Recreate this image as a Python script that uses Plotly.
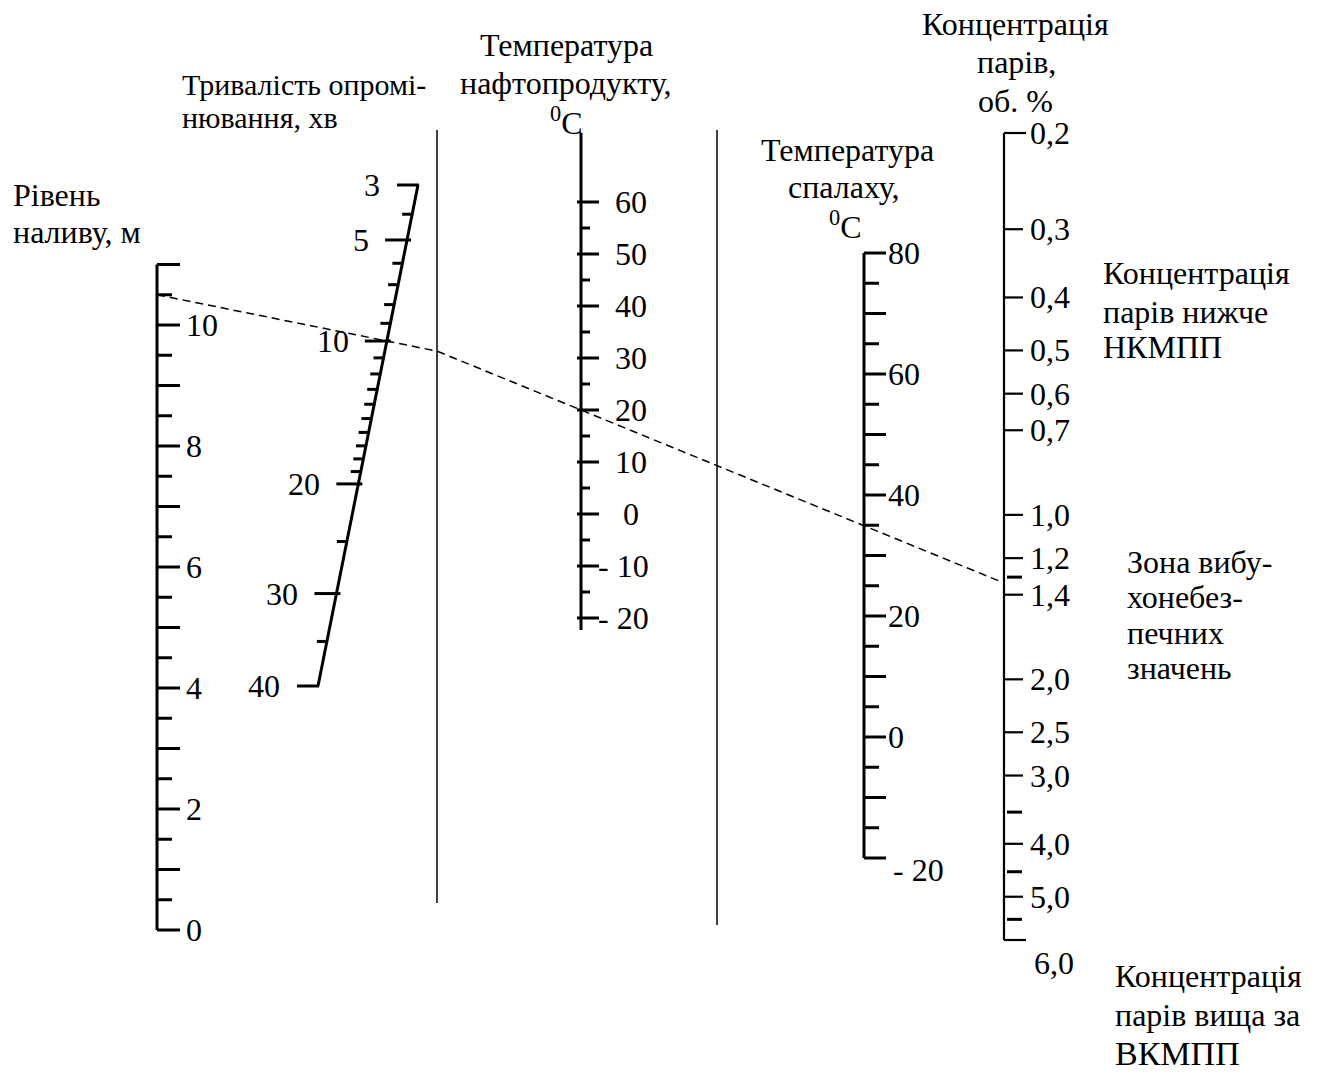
import math
import plotly.graph_objects as go

# ---------------- data ----------------
level_ticks = [0, 0.5, 1, 1.5, 2, 2.5, 3, 3.5, 4, 4.5, 5, 5.5, 6, 6.5, 7, 7.5,
               8, 8.5, 9, 9.5, 10, 10.5, 11]
level_labels = [0, 2, 4, 6, 8, 10]

time_major = [3, 5, 10, 20, 30, 40]
time_minor = [4, 6, 7, 8, 9, 11, 12, 13, 14, 15, 16, 17, 18, 19, 25, 35]

temp_major = [60, 50, 40, 30, 20, 10, 0, -10, -20]
temp_minor = [55, 45, 35, 25, 15, 5, -5, -15]
temp_labels = ["60", "50", "40", "30", "20", "10", "0", "- 10", "- 20"]

flash_major = [80, 70, 60, 50, 40, 30, 20, 10, 0, -10, -20]
flash_minor = [75, 65, 55, 45, 35, 25, 15, 5, -5, -15]
flash_labeled = [80, 60, 40, 20, 0, -20]
flash_labels = ["80", "60", "40", "20", "0", "- 20"]

conc_major = [0.2, 0.3, 0.4, 0.5, 0.6, 0.7, 1.0, 1.2, 1.4, 2.0, 2.5, 3.0, 4.0, 5.0, 6.0]
conc_labels = ["0,2", "0,3", "0,4", "0,5", "0,6", "0,7", "1,0", "1,2", "1,4",
               "2,0", "2,5", "3,0", "4,0", "5,0", "6,0"]
conc_minor = [1.3, 3.5, 4.5, 5.5]

# worked example shown by the dashed key line
example_level = 10.5   # m
example_time = 10      # min
example_temp = 20      # deg C

# ---------------- scales (nomogram axes placement) ----------------
W, H = 1319, 1074
FONT = "Liberation Serif, Times New Roman, serif"
FS = 32


def lin(domain, rng):
    d0, d1 = domain
    r0, r1 = rng
    return lambda v: r0 + (v - d0) / (d1 - d0) * (r1 - r0)


LEVEL_X = 157
level_y = lin((0, 11), (930, 264.5))

TIME_TOP = (418, 185)
TIME_BOT = (318, 686)
t_lo, t_hi = time_major[0], time_major[-1]


def time_pos(t):
    s = (math.sqrt(t) - math.sqrt(t_lo)) / (math.sqrt(t_hi) - math.sqrt(t_lo))
    return (TIME_TOP[0] + s * (TIME_BOT[0] - TIME_TOP[0]),
            TIME_TOP[1] + s * (TIME_BOT[1] - TIME_TOP[1]))


TEMP_X = 581
temp_y = lin((60, -20), (202, 618))
TEMP_EXT = (73.3, -22.3)

FLASH_X = 864
flash_y = lin((80, -20), (253, 858))

CONC_X = 1004
_conc_lin = lin((math.log10(conc_major[0]), math.log10(conc_major[-1])), (133, 940))


def conc_y(c):
    return _conc_lin(math.log10(c))


REF1_X, REF1_Y = 437, (130, 903)
REF2_X, REF2_Y = 717, (130, 925)

# ---------------- geometry ----------------
thick, medium, thin = [], [], []


def seg(lst, x0, y0, x1, y1):
    lst.append((x0, y0, x1, y1))


# level axis
seg(thick, LEVEL_X, level_y(level_ticks[0]), LEVEL_X, level_y(level_ticks[-1]))
for v in level_ticks:
    ln = 23 if float(v).is_integer() else 15
    seg(thick, LEVEL_X, level_y(v), LEVEL_X + ln, level_y(v))

# time axis (slanted)
x0, y0 = time_pos(t_lo)
x1, y1 = time_pos(t_hi)
seg(thick, x0, y0, x1, y1)
for t in time_major:
    x, y = time_pos(t)
    if t in (t_lo, t_hi):
        seg(thick, x - 21, y, x + 1, y)
    else:
        seg(thick, x - 22, y, x + 4, y)
for t in time_minor:
    x, y = time_pos(t)
    seg(thick, x - 10, y, x + 1, y)

# product temperature axis
seg(thick, TEMP_X, temp_y(TEMP_EXT[0]), TEMP_X, temp_y(TEMP_EXT[1]))
for v in temp_major:
    seg(thick, TEMP_X - 4, temp_y(v), TEMP_X + 18, temp_y(v))
for v in temp_minor:
    seg(thick, TEMP_X + 1, temp_y(v), TEMP_X + 9, temp_y(v))

# flash temperature axis
seg(thick, FLASH_X, flash_y(flash_major[0]), FLASH_X, flash_y(flash_major[-1]))
for v in flash_major:
    seg(thick, FLASH_X, flash_y(v), FLASH_X + 22, flash_y(v))
for v in flash_minor:
    seg(thick, FLASH_X, flash_y(v), FLASH_X + 15, flash_y(v))

# concentration axis
seg(medium, CONC_X, conc_y(conc_major[0]), CONC_X, conc_y(conc_major[-1]))
for i, c in enumerate(conc_major):
    ln = 22 if i in (0, len(conc_major) - 1) else 19
    seg(medium, CONC_X, conc_y(c), CONC_X + ln, conc_y(c))
for c in conc_minor:
    seg(thick, CONC_X + 3, conc_y(c), CONC_X + 18, conc_y(c))

# reference (unscaled) lines
seg(thin, REF1_X, REF1_Y[0], REF1_X, REF1_Y[1])
seg(thin, REF2_X, REF2_Y[0], REF2_X, REF2_Y[1])

# dashed key line: level -> time -> pivot on ref line 1 -> temperature -> concentration axis
pl = (LEVEL_X, level_y(example_level))
pt = time_pos(example_time)
piv_y = pl[1] + (REF1_X - pl[0]) * (pt[1] - pl[1]) / (pt[0] - pl[0])
ptemp = (TEMP_X, temp_y(example_temp))
slope2 = (ptemp[1] - piv_y) / (ptemp[0] - REF1_X)
end_x = CONC_X - 4
dash_x = [pl[0], REF1_X, end_x]
dash_y = [pl[1], piv_y, piv_y + (end_x - REF1_X) * slope2]


def to_xy(lst):
    xs, ys = [], []
    for (a, b, c, d) in lst:
        xs += [a, c, None]
        ys += [b, d, None]
    return xs, ys


fig = go.Figure()
for lst, w in ((thick, 3), (medium, 2.2), (thin, 1.5)):
    xs, ys = to_xy(lst)
    fig.add_trace(go.Scatter(x=xs, y=ys, mode="lines",
                             line=dict(color="black", width=w),
                             hoverinfo="skip", showlegend=False))
fig.add_trace(go.Scatter(x=dash_x, y=dash_y, mode="lines",
                         line=dict(color="black", width=1.5, dash="8px,5px"),
                         hoverinfo="skip", showlegend=False))

ann = []


def txt(s, x, y, anchor="left", size=FS):
    ann.append(dict(text=s, x=x, y=y, xref="x", yref="y", xanchor=anchor,
                    yanchor="middle", showarrow=False,
                    font=dict(family=FONT, size=size, color="black")))


# tick labels
for v in level_labels:
    txt(str(v), LEVEL_X + 27, level_y(v))
for t in time_major:
    x, y = time_pos(t)
    txt(str(t), x - 36, y, "right")
for v, s in zip(temp_major, temp_labels):
    if v < 0:
        txt(s, TEMP_X + 70, temp_y(v), "right")
    else:
        txt(s, TEMP_X + 50, temp_y(v), "center")
for v, s in zip(flash_labeled, flash_labels):
    if v == flash_major[-1]:
        txt(s, FLASH_X + 27, flash_y(v) + 12)
    else:
        txt(s, FLASH_X + 22, flash_y(v))
for i, (c, s) in enumerate(zip(conc_major, conc_labels)):
    if i == len(conc_major) - 1:
        txt(s, CONC_X + 50, conc_y(c) + 23, "center")
    else:
        txt(s, CONC_X + 24, conc_y(c))

# titles
txt("Тривалість опромі-", 180, 84, size=30)
txt("нювання, хв", 180, 117, size=30)
txt("Рівень", 11, 195)
txt("наливу, м", 11, 232)
txt("Температура", 566, 45, "center")
txt("нафтопродукту,", 566, 83, "center")
txt("<sup>0</sup>C", 566, 121, "center")
txt("Концентрація", 1015, 24, "center")
txt("парів,", 1016, 62, "center")
txt("об. %", 1015, 101, "center")
txt("Температура", 847, 150, "center")
txt("спалаху,", 844, 187, "center")
txt("<sup>0</sup>C", 845, 225, "center")
txt("Концентрація", 1101, 273)
txt("парів нижче", 1101, 312)
txt("НКМПП", 1101, 347)
txt("Зона вибу-", 1125, 562)
txt("хонебез-", 1125, 597)
txt("печних", 1125, 633)
txt("значень", 1125, 668)
txt("Концентрація", 1113, 976)
txt("парів вища за", 1113, 1015)
txt("ВКМПП", 1113, 1053, size=34)

fig.update_layout(
    width=W, height=H, margin=dict(l=0, r=0, t=0, b=0),
    paper_bgcolor="white", plot_bgcolor="white",
    xaxis=dict(range=[0, W], visible=False, fixedrange=True),
    yaxis=dict(range=[H, 0], visible=False, fixedrange=True),
    annotations=ann, showlegend=False,
)
fig.write_html("out.html",
               config={"displayModeBar": False},
               post_script="document.body.style.margin='0';document.body.style.padding='0';")
